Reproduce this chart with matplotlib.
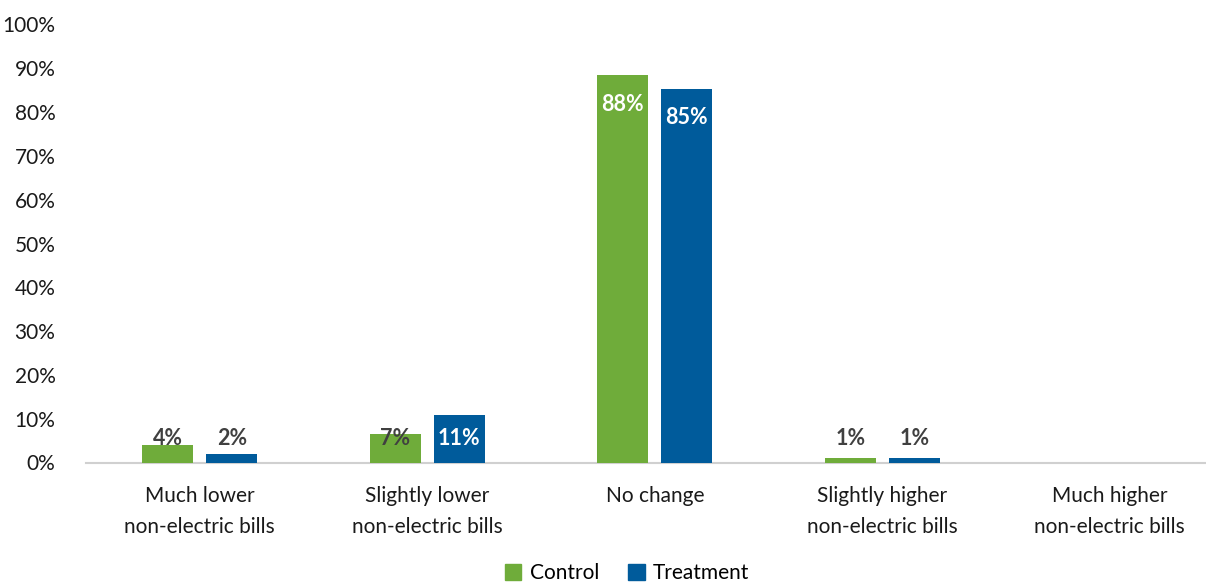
import numpy as np
import matplotlib.pyplot as plt
from matplotlib.patches import Patch

categories = ["Much lower\nnon-electric bills", "Slightly lower\nnon-electric bills",
              "No change", "Slightly higher\nnon-electric bills",
              "Much higher\nnon-electric bills"]
control = [3.9, 6.5, 88.4, 1.1, 0.0]
treatment = [2.0, 10.8, 85.3, 1.1, 0.0]
control_labels = ["4%", "7%", "88%", "1%", ""]
treatment_labels = ["2%", "11%", "85%", "1%", ""]

green = "#6FAC3A"
blue = "#005B9B"
plt.rcParams["font.family"] = ["Lato", "DejaVu Sans"]

W, H = 1206, 584
fig = plt.figure(figsize=(W / 100, H / 100), dpi=100)
# plot area runs past the right edge, as in the reference
ax = fig.add_axes([86 / W, 1 - 462.5 / H, (1223.5 - 86) / W, (462.5 - 24.5) / H])

x = np.arange(len(categories))
off = 0.1407
bw = 0.224
ax.bar(x - off, control, bw, color=green, zorder=3)
ax.bar(x + off, treatment, bw, color=blue, zorder=3)


def put_labels(xs, vals, labels):
    for xi, v, lab in zip(xs, vals, labels):
        if not lab:
            continue
        y = max(v - 6.6, 5.4)
        inside = v > 9
        ax.text(xi, y, lab, ha="center", va="center", fontsize=15.5, fontweight="bold",
                color="white" if inside else "#404040", zorder=4)


put_labels(x - off, control, control_labels)
put_labels(x + off, treatment, treatment_labels)

ax.set_xlim(-0.5, len(categories) - 0.5)
ax.set_ylim(0, 100)
ax.set_yticks(np.arange(0, 101, 10))
ax.set_yticklabels([f"{t}%" for t in range(0, 101, 10)])
ax.set_xticks(x)
ax.set_xticklabels(categories, linespacing=1.7)
ax.tick_params(axis="both", length=0, labelsize=15, colors="#1a1a1a")
ax.tick_params(axis="y", pad=22)
ax.tick_params(axis="x", pad=17)
for s in ["top", "right", "left"]:
    ax.spines[s].set_visible(False)
ax.spines["bottom"].set_color("#d0d0d0")
ax.spines["bottom"].set_linewidth(1.5)

handles = [Patch(color=green, label="Control"), Patch(color=blue, label="Treatment")]
fig.legend(handles=handles, loc="center", bbox_to_anchor=(627 / W, 1 - 573 / H),
           ncol=2, frameon=False, fontsize=15, handlelength=0.8, handleheight=0.8,
           handletextpad=0.4, columnspacing=1.4)

fig.savefig("out.png", dpi=100)
